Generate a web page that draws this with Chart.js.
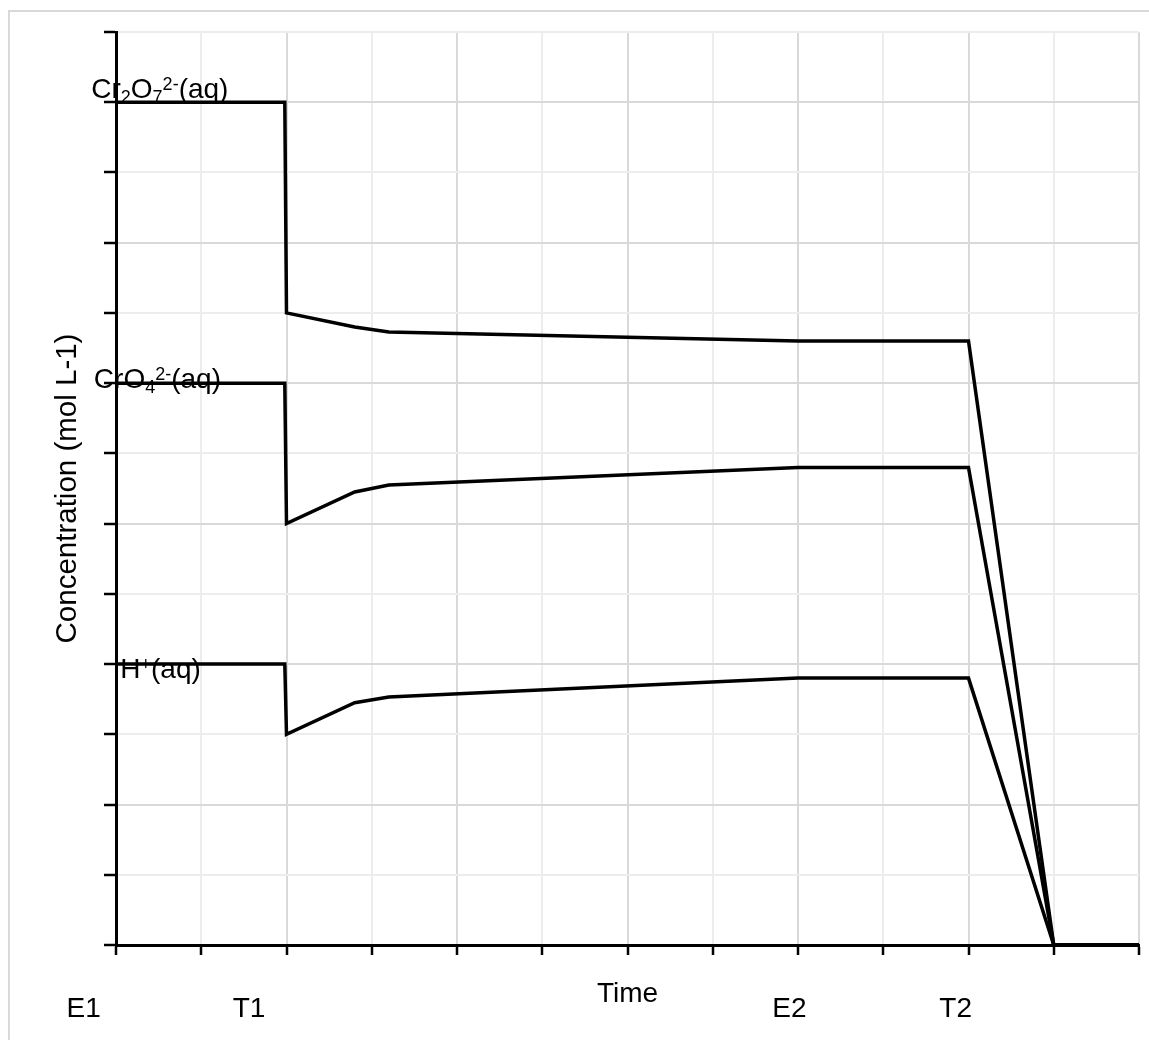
<!DOCTYPE html>
<html lang="en">
<head>
    <meta charset="UTF-8">
    <title>Concentration vs Time</title>
    <script src="https://cdn.jsdelivr.net/npm/chart.js"></script>
    <style>
        body { margin: 0; background: #fff; }
        #wrap { width: 1149px; height: 1040px; }
    </style>
</head>
<body>
<div id="wrap"><canvas id="chart" width="1149" height="1040"></canvas></div>
<script>
    // time points shared by all three series
    const times = [0, 1.98, 2, 2.8, 3.2, 8, 10, 11, 12];
    const cr2o7 = [12, 12, 9, 8.8, 8.73, 8.6, 8.6, 0, 0];
    const cro4  = [8, 8, 6, 6.45, 6.55, 6.8, 6.8, 0, 0];
    const hplus = [4, 4, 3, 3.45, 3.53, 3.8, 3.8, 0, 0];

    // x axis text labels under the axis
    const xNames = ['E1', 'T1', 'E2', 'T2'];
    const xNameAt = [-0.38, 1.56, 7.9, 9.85];

    // series names: [text, kind] pieces, with where they sit (x start, baseline y)
    const seriesNames = [
        [['Cr', ''], ['2', 'sub'], ['O', ''], ['7', 'sub'], ['2-', 'sup'], ['(aq)', '']],
        [['CrO', ''], ['4', 'sub'], ['2-', 'sup'], ['(aq)', '']],
        [['H', ''], ['+', 'sup'], ['(aq)', '']]
    ];
    const nameX = [-0.29, -0.26, 0.05];
    const nameY = [12.06, 7.93, 3.8];

    const FONT = '"Liberation Sans", Arial, sans-serif';

    function pts(ys) {
        return times.map((t, i) => ({x: t, y: ys[i]}));
    }

    const textPlugin = {
        id: 'texts',
        beforeDraw(chart) {
            const ctx = chart.ctx;
            ctx.save();
            ctx.strokeStyle = '#d9d9d9';
            ctx.lineWidth = 2;
            ctx.strokeRect(9, 11, 1300, 1200);
            ctx.restore();
        },
        afterDraw(chart) {
            const ctx = chart.ctx;
            const xs = chart.scales.x, ys = chart.scales.y;
            const area = chart.chartArea;
            ctx.save();
            ctx.fillStyle = '#000';

            // series names with sub/superscripts
            seriesNames.forEach(function(parts, i) {
                let px = xs.getPixelForValue(nameX[i]);
                const py = ys.getPixelForValue(nameY[i]);
                ctx.textAlign = 'left';
                ctx.textBaseline = 'alphabetic';
                parts.forEach(function(p) {
                    let dy = 0;
                    if (p[1] === 'sub') { ctx.font = '18px ' + FONT; dy = 5; }
                    else if (p[1] === 'sup') { ctx.font = '18px ' + FONT; dy = -8; }
                    else { ctx.font = '28px ' + FONT; }
                    ctx.fillText(p[0], px, py + dy);
                    px += ctx.measureText(p[0]).width;
                });
            });

            // labels under the x axis
            ctx.font = '28px ' + FONT;
            ctx.textAlign = 'center';
            xNames.forEach(function(n, i) {
                ctx.fillText(n, xs.getPixelForValue(xNameAt[i]), area.bottom + 72);
            });
            ctx.fillText('Time', xs.getPixelForValue(6), area.bottom + 57);

            // y axis title
            ctx.font = '29.5px ' + FONT;
            ctx.translate(area.left - 48, (area.top + area.bottom) / 2);
            ctx.rotate(-Math.PI / 2);
            ctx.textBaseline = 'middle';
            ctx.fillText('Concentration (mol L-1)', 0, 0);
            ctx.restore();
        }
    };

    function gridColor(c) {
        return c.tick.value % 2 === 0 ? '#d9d9d9' : '#ededed';
    }

    const lineStyle = {
        borderColor: '#000',
        borderWidth: 3.5,
        pointRadius: 0,
        showLine: true,
        tension: 0,
        fill: false
    };

    new Chart(document.getElementById('chart'), {
        type: 'scatter',
        data: {
            datasets: [
                Object.assign({label: 'Cr2O7', data: pts(cr2o7)}, lineStyle),
                Object.assign({label: 'CrO4', data: pts(cro4)}, lineStyle),
                Object.assign({label: 'H+', data: pts(hplus)}, lineStyle)
            ]
        },
        options: {
            responsive: false,
            animation: false,
            layout: { padding: { left: 104, top: 32, right: 10, bottom: 85 } },
            plugins: { legend: { display: false }, tooltip: { enabled: false } },
            scales: {
                x: {
                    type: 'linear',
                    min: 0, max: 12,
                    ticks: { stepSize: 1, display: false },
                    grid: { color: gridColor, lineWidth: 2, tickColor: '#000', tickWidth: 2.5, tickLength: 10 },
                    border: { color: '#000', width: 3 }
                },
                y: {
                    min: 0, max: 13,
                    ticks: { stepSize: 1, display: false },
                    grid: { color: gridColor, lineWidth: 2, tickColor: '#000', tickWidth: 2.5, tickLength: 12 },
                    border: { color: '#000', width: 3 }
                }
            }
        },
        plugins: [textPlugin]
    });
</script>
</body>
</html>
